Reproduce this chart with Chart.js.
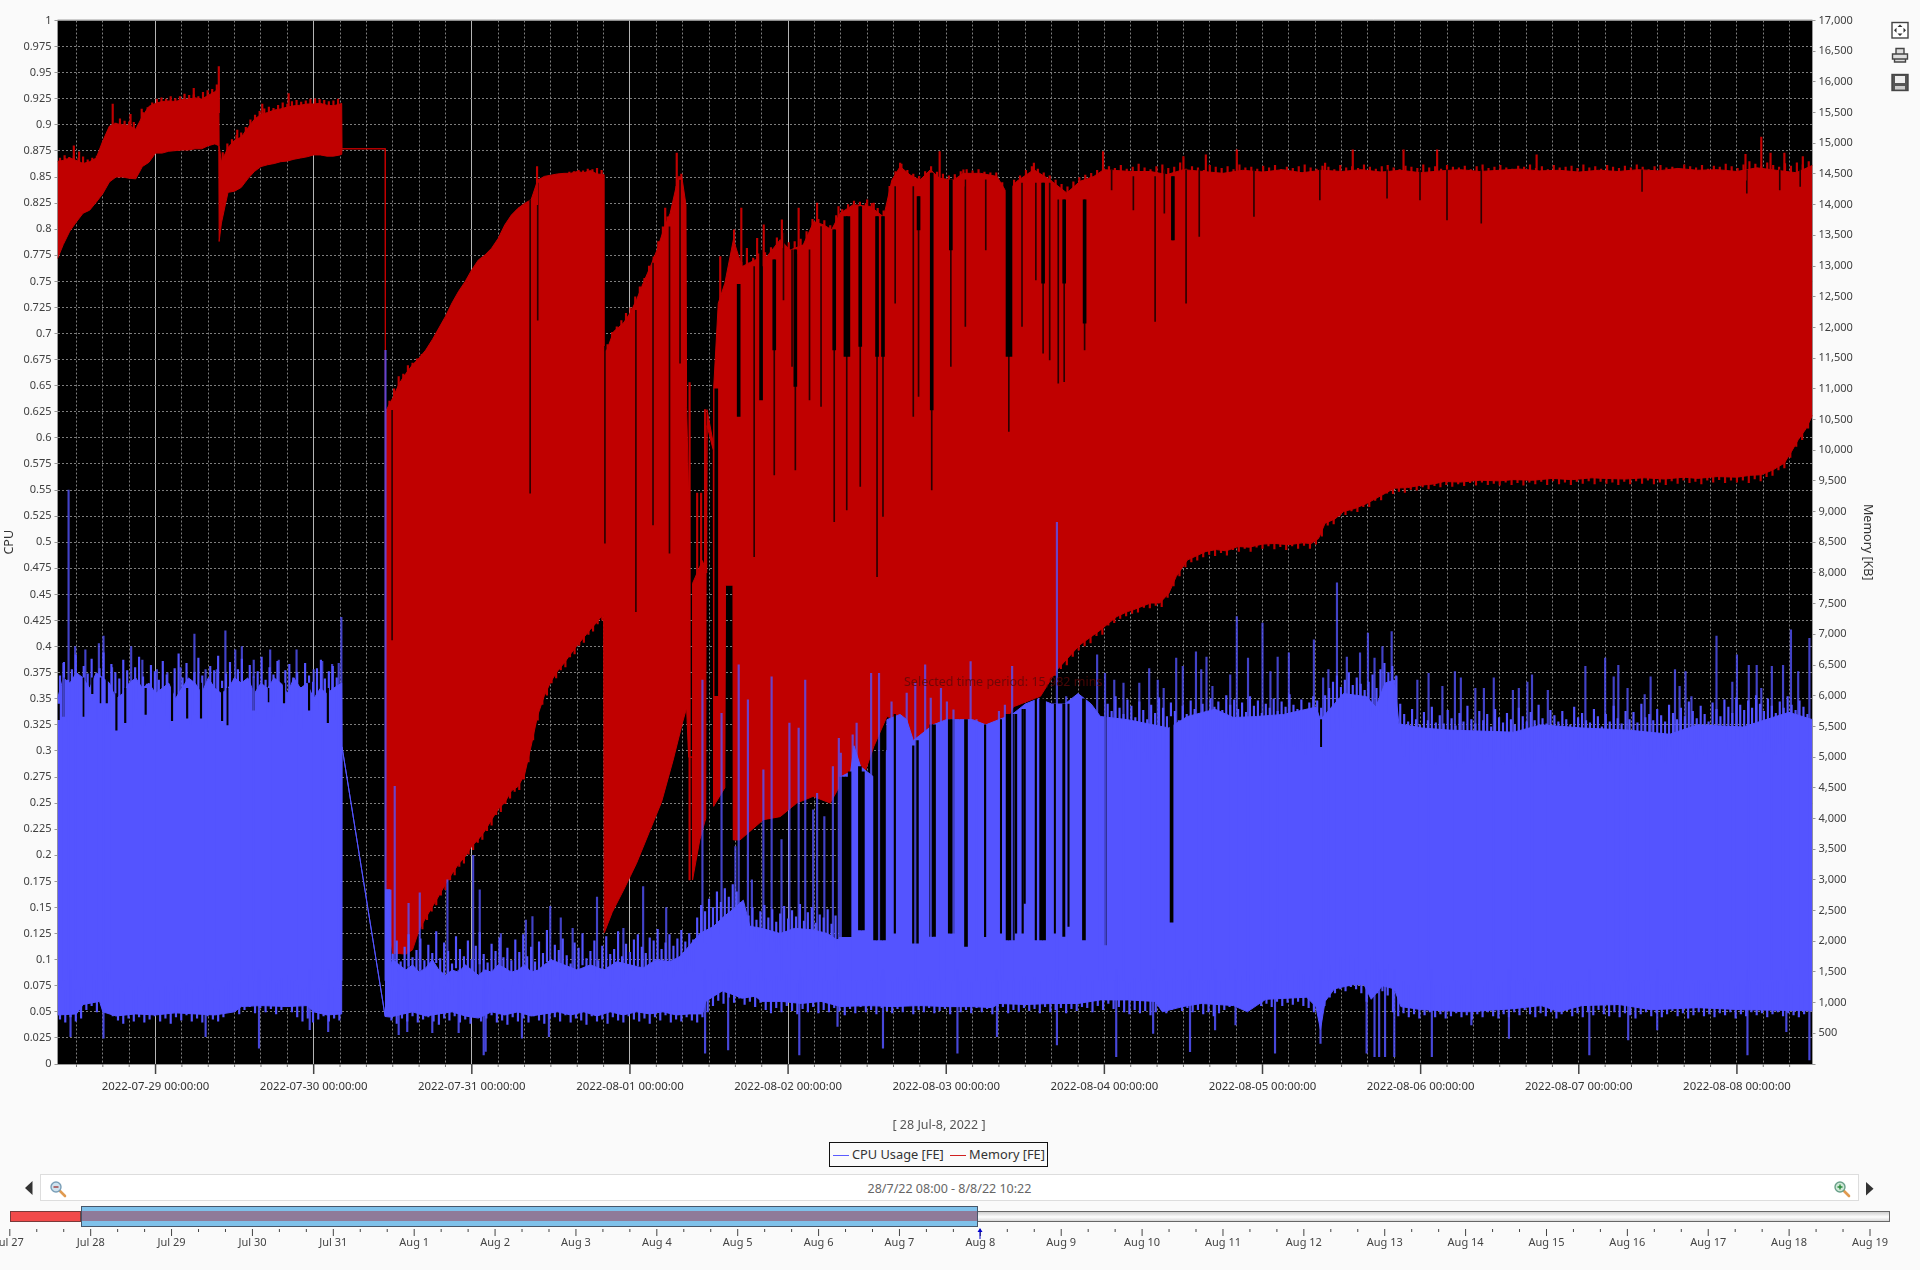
<!DOCTYPE html>
<html>
<head>
<meta charset="utf-8">
<title>CPU / Memory</title>
<script src="https://cdn.jsdelivr.net/npm/chart.js@4/dist/chart.umd.min.js"></script>
<style>
  html, body { margin: 0; padding: 0; background: #fafafa; overflow: hidden; }
  body { width: 1920px; height: 1270px; position: relative; font-family: "Noto Sans", sans-serif; color: #444; }
  canvas { position: absolute; left: 0; }
  .abs { position: absolute; }
  #rangeText { left: 40px; top: 1174px; width: 1819px; height: 27px; box-sizing: border-box; background: #fff; border: 1.5px solid #ddd;
    text-align: center; font-size: 12.5px; line-height: 27px; color: #666; }
  #period { left: 904px; top: 673px; font-size: 12.5px; color: rgba(90, 8, 8, 0.8); white-space: nowrap; }
  #caption { left: 839px; width: 200px; top: 1116px; text-align: center; font-size: 12.5px; color: #555; }
  #legend { left: 829px; top: 1142px; width: 219px; height: 25px; box-sizing: border-box; border: 1.5px solid #111; background: #fafafa;
    font-size: 12.8px; line-height: 22px; color: #333; white-space: nowrap; }
  #legend i { display: inline-block; width: 16px; height: 1.5px; vertical-align: middle; margin: 0 3px 0 3px; }
  #track { left: 10px; top: 1211px; width: 1880px; height: 11px; box-sizing: border-box; border: 1px solid #666;
    background: linear-gradient(#cfcfcf, #fdfdfd 55%, #d8d8d8); }
  #off { left: 10px; top: 1211px; width: 71px; height: 11px; box-sizing: border-box; border: 1px solid #7a3a3a; background: #f24a4a; }
  #sel { left: 81px; top: 1206px; width: 897px; height: 21px; box-sizing: border-box; border: 1px solid #46566a; background: #7fc1ea; }
  #sel div { position: absolute; left: 0; right: 0; top: 4px; height: 10px; background: #8f7a99; }
</style>
</head>
<body>
<canvas id="mainChart" width="1920" height="1270" style="top:0"></canvas>
<canvas id="navChart" width="1920" height="70" style="top:1200px"></canvas>

<div class="abs" id="period">Selected time period: 15,982 mins</div>
<div class="abs" id="caption">[ 28 Jul-8, 2022 ]</div>
<div class="abs" id="legend"><i style="background:#5a5aff"></i>CPU Usage [FE] <i style="background:#d02020"></i>Memory [FE]</div>
<div class="abs" id="rangeText">28/7/22 08:00 - 8/8/22 10:22</div>
<div class="abs" id="track"></div>
<div class="abs" id="off"></div>
<div class="abs" id="sel"><div></div></div>

<!-- toolbar + slider icons -->
<svg class="abs" style="left:0;top:0" width="1920" height="1270" fill="none">
  <g stroke="#444" stroke-width="1.4">
    <rect x="1892" y="22.5" width="16" height="15.5" fill="#fff"/>
    <path d="M1900 24.5l-2.5 2.5h5zM1900 36l-2.5-2.5h5zM1894 30.2l2.5-2.5v5zM1906 30.2l-2.5-2.5v5z" fill="#333" stroke="none"/>
    <path d="M1896 54v-5.5h8v5.5M1892.5 54h15v5h-15zM1894.5 59v3h11v-3" fill="#ddd"/>
    <rect x="1892" y="74.5" width="16" height="16" fill="#555"/>
    <rect x="1895" y="76" width="10" height="7" fill="#eee" stroke="none"/>
    <rect x="1895" y="86" width="10" height="3.5" fill="#ccc" stroke="none"/>
  </g>
  <path d="M32.5 1181v14l-7.5-7z" fill="#333"/>
  <path d="M1866 1182v13.5l7.5-6.7z" fill="#333"/>
  <g>
    <path d="M60 1191l5 5" stroke="#e09a50" stroke-width="2.6" stroke-linecap="round"/>
    <circle cx="56" cy="1187" r="5" fill="#cfe2ee" stroke="#7a9fb8" stroke-width="1.4"/>
    <path d="M53.5 1187h5" stroke="#a03a3a" stroke-width="1.4"/>
  </g>
  <g>
    <path d="M1844 1191l5 5" stroke="#e09a50" stroke-width="2.6" stroke-linecap="round"/>
    <circle cx="1840" cy="1187" r="5" fill="#cfe8d8" stroke="#6aa08a" stroke-width="1.4"/>
    <path d="M1837.5 1187h5M1840 1184.5v5" stroke="#2a8a3a" stroke-width="1.4"/>
  </g>
  <path d="M980 1228l-2.5 4h5z" fill="#0000cc"/>
  <path d="M980 1231v8" stroke="#0000cc" stroke-width="1"/>
</svg>

<script>
// x values are hours counted from 2022-07-28 00:00
const hourMin = 9.12;
const hourMax = 275.47;

const dayHours = [24, 48, 72, 96, 120, 144, 168, 192, 216, 240, 264];
const dayLabels = ['2022-07-29 00:00:00', '2022-07-30 00:00:00', '2022-07-31 00:00:00', '2022-08-01 00:00:00',
  '2022-08-02 00:00:00', '2022-08-03 00:00:00', '2022-08-04 00:00:00', '2022-08-05 00:00:00',
  '2022-08-06 00:00:00', '2022-08-07 00:00:00', '2022-08-08 00:00:00'];
const solidDays = [24, 48, 72, 96, 120];

// Memory band, upper edge [KB]
const memUpperH = [9.12,10,11,12,13,14,15,16,17,18,19,20,21,22,23,24,25,26,27,28,29,30,31,32,33,33.6,
  33.65,34,35,36,37,38,39,40,41,42,43,44,45,46,47,48,49,50,51,52,52.25,
  52.3,58.85,58.9,59,60,61,62,63,64,65,66,67,68,69,70,71,72,73,74,75,76,77,78,79,80,81,82,83,84,85,86,87,88,89,90,91,92,
  92.05,92.5,93.5,95,96,97,98,99.1,100.1,101.1,102.1,102.9,103.4,103.9,104.5,104.6,104.9,104.95,105.45,105.5,107,107.65,107.7,108.65,108.7,109.4,110.4,111.7,
  113,115,116.8,118.8,120.3,122.3,123.9,125.4,126.6,127.9,129.9,132.5,134.5,135.75,137,138.5,140,141.6,143,145.1,146.6,149.2,151.7,153.2,154.7,157.3,159.8,162.3,164.3,166.4,167.9,172,175,177.5,180,
  183,186,189,192,195,198,201,204,207,210,213,216,219,222,225,228,231,234,237,240,243,246,249,252,255,258,261,264,267,270,273,275.47];
const memUpper = [14705,14720,14760,14720,14670,14700,14760,15040,15280,15320,15300,15290,15230,15440,15600,15650,15680,15690,15680,15710,15720,15740,15720,15780,15840,15900,
  14960,14700,14930,15050,15100,15250,15390,15470,15500,15540,15560,15590,15610,15620,15640,15640,15650,15620,15610,15640,15650,
  14910,14910,10630,10650,10850,11090,11250,11390,11500,11630,11800,11990,12180,12400,12590,12750,12940,13100,13180,13290,13450,13670,13830,13940,14020,14080,14400,14460,14480,14500,14510,14510,14540,14520,14555,14500,14490,
  11600,11630,11930,12070,12230,12450,12720,12990,13260,13590,13860,14240,14460,14430,14000,10700,9300,5000,5000,7830,8200,8000,10660,10110,11000,12390,12720,13430,
  12990,13100,13155,13430,13260,13345,13725,13670,13590,13860,14000,13970,13800,14400,14620,14485,14400,14570,14430,14400,14510,14510,14460,14190,14380,14570,14400,14190,14380,14460,14570,14540,14540,14490,14570,
  14540,14510,14560,14530,14570,14520,14560,14540,14570,14530,14560,14520,14550,14570,14540,14560,14580,14550,14560,14530,14560,14540,14570,14550,14590,14560,14570,14540,14600,14560,14520,14640];

// Memory band, lower edge [KB]
const memLowerH = [9.12,10,11,12,13,14,15,16,17,18,19,20,21,22,23,24,25,26,27,28,29,30,31,32,33,33.6,
  33.65,34,35,36,37,38,39,40,41,42,43,44,45,46,47,48,49,50,51,52,52.25,52.3,58.85,58.9,59.6,60,61,62,63,64,65,66,67,68,69,70,71,72,73,74,75,76,77,78,79,80,81,82,83,84,85,86,87,88,89,90,91,92,
  92.1,93.3,95.2,97,98.9,100.8,102.6,104,104.6,104.9,105.45,105.5,106.6,107.5,107.55,107.7,108.65,108.7,110.4,110.5,111.65,111.7,
  112.7,116.25,118.8,121.3,123.8,126.4,128.9,130.9,133,135,137,139,140,142,144.1,147.1,149.1,152.2,154.2,158.3,160.8,164.3,167.4,169.9,171.5,172.4,175,176.4,177.8,178.9,180.6,
  183.4,185,186.5,188.3,190,192,193.9,196,198,199.4,200.5,201.5,203,204.3,206,207.8,210,212,214,216.1,218,219.6,222,225,228,230,233,236,239,242,244,247,250,253,256,258,261,264,266,267.7,269.5,271.2,272.3,273.3,274.5,275.47];
const memLower = [13120,13350,13570,13720,13860,13910,14040,14180,14370,14450,14450,14430,14420,14620,14690,14840,14840,14870,14880,14890,14890,14910,14910,14960,14990,14960,
  13400,13700,14200,14220,14280,14420,14540,14620,14650,14670,14700,14710,14740,14760,14780,14810,14810,14790,14790,14810,14820,14910,14910,1320,2100,1800,1800,1790,1860,2180,2380,2560,2740,2930,3100,3260,3380,3550,3660,3800,3980,4150,4260,4450,4520,4710,5180,5680,6000,6230,6400,6530,6680,6820,6950,7080,7200,7340,
  2135,2470,2870,3270,3770,4270,4970,5570,5800,5000,5000,3000,3650,4000,8000,10400,10000,4200,4500,7800,7800,3650,
  3650,3980,4030,4250,4360,4250,4740,4520,5170,5660,5600,5060,5335,5500,5390,5450,5335,5390,5820,5990,6420,6830,7070,7290,7370,7400,7510,7510,7670,7940,8210,
  8350,8380,8360,8430,8420,8470,8480,8460,8490,8480,8560,8810,8880,9000,9050,9130,9260,9380,9390,9430,9450,9490,9480,9510,9500,9520,9510,9540,9520,9550,9540,9530,9550,9530,9560,9540,9570,9560,9590,9600,9680,9790,9980,10170,10350,10570];

// Rough top of the memory band, read every so often: {start hour, step, peak values}
const memPeaksA = [14760,14800,14770,14790,14760,14780,14730,14760,14790,14830,14900,15150,15330,15400,15360,15350,15340,15290,15500,15580,15660,15720,15740,15720,15760,15730,15760,15800,15780,15790,15760,15830,15860,15880,15950];
const memPeaksB = [14850,14990,15060,15130,15170,15260,15380,15460,15520,15560,15590,15570,15620,15660,15640,15680,15700,15670,15690,15720,15680,15710,15700,15680,15690,15720];
const memPeaksC = [10800,11000,11200,11240,11380,11420,11490,11560,11580,11700,11780,11900,11960,12100,12150,12300,12390,12460,12600,12620,12740,12790,12940,13000,13120,13150,13260,13280,13400,13550,13600,13780,13800,13920,13960,14050,14100,14420,14480,14530,14540,14560,14550,14580,14570,14590,14560];
const memPeaksD = [11720,11920,12010,12110,12230,12320,12500,12660,12800,13000,13150,13400,13640,13800,13950,14300,14500];
const memPeaksE = [13100,13060,13060,13130,13200,13220,13300,13460,13480,13380,13400,13440,13560,13760,13760,13740,13660,13820,13920,14000,14060,14040,14020,14020,13940,13900,14300,14540,14660,14560,14500,14460,14540,14620,14530,14500,14470,14490,14540,14570,14550,14570,14530,14520,14520,14360,14300,14400,14470,14560,14620,14580,14520,14470,14400,14330,14290,14370,14440,14480,14510,14560,14620,
  14620,14590,14640,14580,14610,14660,14600,14570,14620,14650,14590,14610,14680,14580,14620,14600,14560,14640,14610,14590,14620,14570,14650,14600,14610,14580,14630,14600,14640,14570,14610,14590,14620,14650,14600,14580,14630,14610,14570,14640,14600,14620,14590,14650,14610,14580,14620,14640,14600,14570,14630,14610,14590,14650,14600,14620,14580,14640,14610,14600,14630,14570,14620,14650,14590,14610,14640,14600,14580,14630,14610,14650,14590,14620,14570,14640,14600,14610,14630,14590,14650,14600,14620,14580,14640,14610,14590,14630,14600,14650,14610,14570,14620,14640,14600,14610,14590,14650,14620,14600,14640,14580,14630,14610,14660,14620,14590,14650,14700,14660,14620,14680,14640,14610,14670,14630,14680,14650,14700];

// Rough bottom of the memory band, where it shows against black
const memFloorC = [2200,2350,2490,2590,2750,2840,3000,3080,3220,3270,3420,3490,3610,3660,3800,3890,4060,4110,4240,4330,4440,4470,4640,4920,5280,5600,5860,6010,6210,6290,6420,6470,6630,6680,6820,6870,7000,7050,7170,7230];
const memFloorF = [6330,6440,6500,6640,6740,6810,6860,6980,7000,7150,7190,7260,7300,7340,7360,7440,7430,7470,7450,7600,7790,7950,8100,8180,8210,8260,8300,8280,8330,8290,8380,8350,8400,8350,8420,8400,8440,8390,8430,8380,8440,8400,8450,8400,8470,8600,8780,8800,8930,8950,9010,9000,9080,9080,9180,9190,9300,9290,9330,9310,9360,9350,9400,9370,9420,9400,9440,9410,9450,9420,9470,9430,9480,9440,9460,9430,9480,9440,9470,9430,9480,9450,9490,9440,9500,9450,9480,9440,9490,9460,9500,9450,9490,9460,9480,9440,9490,9450,9500,9460,9510,9450,9480,9440,9500,9460,9510,9470,9490,9450,9510,9480,9520,9470,9510,9480,9510,9470,9530,9500,9570,9590,9680,9710,9880,10060,10170,10360];

// Dark slits cut into the memory band: thin ones, then the wider ones
const memSlitH = [59.9,80.85,82,92.2,96.9,99.5,102,103.6,114.85,117.9,119.3,120.6,121.1,123.25,125,127,128.9,130.95,133.5,134.4,136.25,139,139.8,141.8,144.7,146.9,150,153.5,155.5,157.6,158.7,159.7,161,161.9,165,169.1,172.4,175.7,177.1,178.4,180.4,182.4,190.7,200.7,210.9,215.9,220,225.2,249.6,265.5,270.5,273.6];
const memSlitTop = [10650,14080,14350,11690,12280,13050,13640,14400,12992,13101,13535,13264,13264,13264,13644,13590,13807,13970,13807,13807,14296,14296,14130,14513,14404,14404,14404,14350,14350,14350,14350,14350,14078,14078,14078,14567,14459,14459,14567,14459,14567,14567,14567,14567,14567,14567,14567,14567,14567,14567,14567,14567];
const memSlitBottom = [6910,9299,12120,8484,7371,8783,8321,11417,8267,9598,12449,11363,9679,10820,10711,8837,9028,9408,7941,8919,12395,10548,10874,9353,11363,12015,13264,10304,12015,12775,11580,11471,11091,11118,11634,14241,13915,12096,13861,13426,12395,13481,13807,14078,14105,14078,13752,13698,14214,14187,14241,14296];
const memGapH = [109.1,112.5,115.9,117.9,121.1,127,128.7,129.15,130.95,133.5,134.4,139.8,141.8,144.7,153.3,153.75,158.7,161.9,165,178.4];
const memGapTop = [11000,12700,13264,13101,13264,13590,13807,13807,13970,13807,13807,14130,14513,14404,14350,14350,14350,14078,14078,14459];
const memGapBottom = [6000,10550,10820,11634,11037,11634,11526,11526,11689,11526,11526,13590,10657,13264,11526,11526,12721,12721,12069,13426];

// Red spikes sticking out of the memory band
const memSpikeH = [10.3,10.9,11.6,12.4,17.5,20.2,21.9,29.8,33.6,36.4,40.2,44.2,48.2,81.9,101.35,103.1,105.05,106.2,106.8,107.4,109.7,111.8,112.9,113.75,115.3,116.3,119.05,121.6,124.4,127.65,132,133,137,143,146.6,157.3,167.8,180,183.4,188.1,201.5,205.7,213.4,218.5,233.6,265.3,267.7,269.1,271.2,274];
const memSpikeTop = [14756,14756,14960,14860,15640,15470,15555,15895,16250,15215,15640,15810,15725,14620,13943,14840,11100,9300,9300,10660,13155,13590,13943,13290,13450,13670,13752,13943,14024,13970,14078,14024,14676,14866,14566,14676,14866,14784,14812,14893,14676,14893,14893,14893,14812,14820,15100,14839,14839,14784];
const memSpikeBase = [14400,14400,14400,14400,15000,15000,15000,15300,15500,14800,15000,15200,15200,14000,13000,14000,3000,7830,7830,8000,12000,13000,12900,12900,12900,13000,13300,13200,13500,13500,13800,13800,14400,14300,14300,14300,14300,14300,14400,14400,14400,14400,14400,14400,14400,14400,14400,14400,14400,14400];

// CPU band, upper edge
const cpuUpperH = [9.12,10,11,12,13,14,15,16,17,18,19,20,21,22,23,24,25,26,27,28,29,30,31,32,33,34,35,36,37,38,39,40,41,42,43,44,45,46,47,48,49,50,51,52.25,
  52.3,58.85,58.9,59.6,59.7,60,61,62,63,64,65,66,67,68,69,70,71,72,73,74,75,76,77,78,79,80,81,82,83,84,86,88,90,92,94,96,98,100,102,103.6,
  106.6,108.7,110.2,112,113.2,114.2,116,118.8,121,123.8,126,127.4,127.8,127.9,129.5,130,131,133,134.9,135,137,138,139,140,142,144,146,148,150,152,154,156,158,160,162,164,166,
  167.4,171.5,177.8,180.6,184.8,187.6,191.1,195.2,200.1,200.8,202.9,204.3,207.8,209.2,210.6,212,212.7,216.2,220.3,230.1,234.3,240.5,247.5,253.8,258,264.9,271.9,275.47];
const cpuUpper = [.35,.37,.365,.375,.37,.36,.375,.37,.365,.35,.355,.365,.37,.36,.365,.355,.36,.365,.35,.36,.37,.365,.355,.37,.36,.355,.36,.37,.365,.37,.355,.365,.36,.37,.365,.355,.37,.36,.365,.35,.36,.355,.36,.365,
  .304,.0455,.167,.167,.095,.1,.095,.09,.095,.088,.092,.1,.09,.085,.09,.088,.095,.09,.085,.09,.088,.095,.092,.088,.09,.095,.088,.09,.095,.1,.095,.09,.095,.09,.098,.095,.092,.1,.098,.103,
  .125,.132,.141,.15,.157,.132,.13,.125,.13,.1285,.125,.119,.12,.275,.28,.305,.285,.275,.30,.33,.335,.33,.31,.315,.325,.33,.33,.33,.325,.33,.335,.345,.35,.345,.345,.355,.345,
  .333,.33,.322,.333,.34,.332,.333,.335,.342,.33,.345,.355,.352,.342,.365,.368,.326,.322,.32,.318,.325,.322,.32,.316,.325,.323,.337,.33];

// CPU band, lower edge
const cpuLowerH = [9.12,12,13,15.5,16,18,21,24,27,30,33,36,37,40,44,47,48,50,52.25,52.3,58.85,59.6,61,63,65,67,69,71,73,75,77,79,81,83,85,87,89,91,93,95,97,99,101,103,105,107,107.5,109,110,111,113,115,116,119,122,125,128,132,136,140,144,148,151,152,156,160,164,
  167.4,171.5,175.7,176.8,179.9,182.7,187.6,189.7,192.5,198.7,200.1,200.8,201.5,202.9,205.7,207.4,208.5,210.2,212,213,216.2,223.1,230.1,234.3,237,240.5,246.1,251,258,264.9,275.47];
const cpuLower = [.047,.048,.057,.06,.05,.046,.048,.047,.049,.048,.047,.05,.055,.056,.055,.056,.05,.047,.048,.304,.0455,.045,.047,.05,.046,.048,.05,.046,.044,.05,.047,.05,.046,.048,.05,.047,.05,.046,.05,.047,.05,.048,.05,.047,.048,.048,.06,.066,.07,.068,.063,.065,.06,.06,.058,.06,.055,.056,.055,.056,.055,.055,.054,.058,.057,.058,.058,
  .0614,.0614,.06,.05,.055,.058,.056,.05,.062,.064,.055,.033,.06,.072,.076,.076,.062,.075,.072,.055,.052,.05,.053,.056,.05,.056,.057,.052,.054,.052,.051];

// Rough top of the CPU band
const cpuPeaksA = [.372,.385,.368,.378,.392,.365,.381,.374,.388,.37,.379,.394,.366,.383,.375,.369,.387,.377,.362,.38,.39,.371,.364,.382,.376,.368,.386,.373,.361,.379,.393,.37,.384,.366,.375,.389,.372,.363,.381,.377,.391,.367,.374,.385,.369,.378,.388,.365,.382,.371,.376,.39,.368,.38,.373,.386,.364,.377,.383,.37,.375,.361,.384,.372,.366,.379,.387,.369,.376,.381,.37];
const cpuPeaksB = [.105,.118,.098,.112,.124,.102,.109,.12,.099,.114,.106,.127,.101,.116,.108,.096,.122,.11,.103,.118,.1,.113,.126,.105,.097,.115,.108,.121,.102,.111,.099,.119,.107,.124,.103,.112,.098,.117,.106,.128,.1,.114,.109,.12,.104,.096,.116,.111,.125,.101,.108,.118,.099,.113,.122,.105,.11,.127,.103,.115,.107,.119,.124,.112,.106,.121,.118,.129,.11,.116,.124,.113,.12,.128,.117,.125,.119,
  .14,.152,.146,.158,.15,.165,.155,.168,.16,.172,.165,.155,.148,.142,.15,.138,.146,.152,.14,.148,.136,.144,.151,.139,.147,.141,.153,.137,.145,.15,.135,.143,.14,.148,.134,.142];
const cpuPeaksC = [.345,.338,.352,.341,.335,.349,.343,.332,.347,.339,.33,.344,.336,.351,.341,.333,.346,.338,.329,.343,.335,.348,.34,.332,.345,.337,.35,.342,.347,.339,.353,.344,.349,.34,.346,.337,.352,.343,.348,.336,.345,.341,.35,.338,.347,.342,.354,.344,.34,.349,.337,.346,.352,
  .348,.341,.353,.36,.366,.372,.361,.368,.375,.363,.37,.364,.358,.366,.373,.36,.378,.384,.375,.381,.372,.345,
  .335,.328,.34,.33,.325,.337,.329,.342,.327,.334,.326,.339,.331,.324,.336,.328,.343,.33,.326,.338,.329,.335,.323,.34,.332,.327,.336,.33,.325,.341,.333,.328,.337,.329,.344,.331,.326,.339,.334,.328,.338,.33,.325,.342,.332,.336,.329,.327,.34,.333,.323,.335,.328,.343,.331,.326,.338,.33,.337,.327,.345,.332,.335,.329,.34,.334,.328,.344,.336,.33,.341,.333,.347,.338,.331,.343,.335,.328,.346,.34,.333,.349,.342,.336,.351,.344,.339,.348,.341,.353,.345,.338,.35,.343,.336,.347,.341,.352,.344,.339,.348,.342,.335];

// Rough bottom of the CPU band
const cpuFloorA = [.043,.04,.045,.041,.044,.052,.056,.05,.055,.058,.046,.042,.039,.044,.041,.045,.04,.043,.046,.041,.044,.039,.045,.042,.047,.041,.044,.04,.046,.043,.041,.045,.05,.053,.048,.052,.055,.049,.054,.05,.053,.048,.052,.055,.05,.045,.041,.044,.04,.043,.046,.041,.044,.042];
const cpuFloorB = [.042,.039,.044,.041,.046,.04,.043,.045,.041,.038,.044,.042,.046,.04,.043,.039,.045,.041,.044,.047,.04,.042,.038,.045,.041,.044,.04,.046,.042,.039,.043,.045,.041,.047,.04,.044,.042,.038,.046,.041,.043,.039,.045,.042,.04,.046,.043,.041,.044,.039,.045,.042,.047,.04,.043,.041,.045,
  .042,.04,.045,.05,.056,.061,.058,.064,.059,.063,.057,.06,.055,.059,
  .052,.049,.054,.05,.056,.051,.048,.053,.05,.055,.049,.052,.05,.054,.051,.047,.053,.049,.055,.05,.052,.048,.054,.051,.049,.053,.05,.056,.048,.052,.05,.054,.049,.051,.053,.048,.055,.05,.052,.049,.054,.05,.053,.048,.051,.055,.049,.052,.05,.054,.051,.053,.049,.055,.05,.052,.054,.049,.053,.051,.055,
  .054,.05,.056,.052,.058,.053,.055,.05,.048,.052,.049,.051,.047,.05,.053,.049,.052,.055,.051,.054,.05,.052,.048,.05,.046,.049,.052,.055,.057,.054,.058,.055,.059,.056,.058,.055,.06,.056,.059,.057,.06,.056,.054,.05,
  .052,.056,.064,.068,.072,.07,.074,.072,.068,.06,.072,.068,.07,.066,.05,
  .046,.049,.045,.048,.044,.047,.05,.045,.048,.044,.046,.049,.045,.047,.043,.048,.045,.05,.046,.044,.048,.045,.05,.047,.052,.048,.045,.049,.046,.05,.044,.048,.051,.046,.049,.045,.05,.047,.052,.048,.046,.05,.045,.049,.047,.044,.048,.05,.046,.049,.045,.048,.051,.046,.049,.044,.047,.05,.046,.048,.045,.049,.047,.05,.044,.048,.046,.05,.047,.049,.045,.048,.05,.046,.049,.047,.045,.048];

// Blue spikes above the CPU band
const cpuSpikeH = [10,10.8,11.8,13.35,15.4,16.1,17.4,20.3,22,24.2,25.8,27.8,29.9,31.6,33.3,34.6,36.1,37.1,38.9,41.4,42.7,45.4,48,49.3,50.8,51.8,52.2,
  58.9,60.3,62.4,64.1,68.3,72.2,73.2,76.4,80.2,81.2,83.9,85.5,87.3,91,95,98,101.5,
  107,109.9,112,112.5,113.9,114.5,116.25,117.5,119,120.2,121.6,122.6,123.8,124.4,125.5,126.8,127.7,128,129.8,130.4,132.6,133.8,135.7,138,139.3,140.8,141.65,143.2,144.1,145.1,147.7,148.6,152,152.9,154,160.8,162.2,166.9,
  168.1,169.5,170.9,173.3,174.8,176.1,177,178.9,179.9,181.9,182.7,183.5,184.4,187.1,188.1,189.8,192,193.2,194.3,196,199.8,201.2,202,203.3,204.8,206.8,208,209,210.2,211.6,212.3,215.5,217.2,219.3,221.2,222.1,224.3,225.6,227.1,230,230.9,232.2,232.9,235.3,241,244,245.3,246,247.4,250,250.9,254.6,255.3,256.2,257.1,260.9,263.3,264,265.8,267,267.7,269.3,271,272.2,273.3,275];
const cpuSpikeTop = [.384,.55,.40,.397,.403,.41,.38,.40,.387,.378,.375,.38,.412,.378,.378,.415,.397,.40,.387,.397,.387,.397,.378,.386,.383,.384,.428,
  .684,.266,.154,.164,.1765,.2,.167,.125,.138,.1413,.151,.14,.13,.16,.13,.17,.15,
  .368,.336,.2084,.3825,.349,.1765,.282,.371,.215,.3266,.322,.368,.2436,.2595,.237,.285,.312,.298,.3155,.3266,.3745,.3745,.347,.3554,.365,.3825,.3506,.36,.347,.3394,.3857,.33,.338,.344,.381,.519,.352,.392,
  .3745,.368,.365,.365,.379,.368,.36,.389,.381,.395,.378,.39,.362,.373,.4287,.389,.4225,.376,.39,.394,.4065,.37,.378,.461,.39,.394,.413,.389,.40,.4144,.371,.368,.3745,.362,.376,.37,.36,.36,.37,.358,.36,.366,.373,.358,.381,.389,.371,.382,.36,.354,.371,.378,.362,.376,.352,.41,.366,.392,.382,.382,.36,.381,.382,.416,.376,.408];

// Blue dips below the CPU band
const cpuDipH = [11.1,16.1,31.6,39.7,47.4,50.2,60.9,62.2,66,70,73.8,74.1,79.6,83.7,107.4,110.9,121.7,127.5,134.4,145.7,151.7,160.8,
  169.8,175.4,181,184.8,187.9,193.9,200.8,207.8,209,209.7,210.6,212,217.7,223.7,229.4,241.6,247.5,251.9,265.6,271.5,275];
const cpuDipBottom = [.0263,.0247,.0263,.0151,.033,.031,.028,.031,.03,.03,.0087,.012,.0247,.0263,.0103,.0135,.0087,.036,.0151,.0103,.0263,.0183,
  .0071,.0294,.0118,.0326,.0374,.0103,.0198,.0103,.0071,.0071,.0071,.0071,.0071,.0374,.0246,.0087,.023,.0326,.0087,.031,.0038];

// Black gaps in the CPU band: thin ones, then the wider ones
const cpuSlitH = [9.3,10,13.1,14.4,15.6,16.6,18.06,19.4,22.5,26.5,28.8,30.9,34.1,34.9,38.9,41.2,43.5,47.3,50.15,136.2,149.9,152.3,154.6,155.6,155.9,157.6,160.5,162.55,168.15,200.9];
const cpuSlitTop = [.345,.37,.37,.37,.37,.37,.355,.36,.36,.365,.36,.365,.36,.36,.37,.36,.365,.365,.36,.335,.325,.33,.335,.34,.34,.35,.345,.345,.333,.33];
const cpuSlitBottom = [.33,.333,.333,.355,.346,.346,.32,.327,.335,.329,.3315,.3315,.329,.325,.339,.347,.346,.339,.327,.1253,.122,.1253,.1253,.1253,.154,.119,.1253,.1318,.114,.304];
const cpuGapH = [128,128.45,128.9,129.35,130.9,131.35,133.2,133.65,134.1,134.55,139.1,139.55,141.7,142.15,144.5,144.95,147,153.2,153.65,154.1,158.4,158.85,161.9,164.9,178.2];
const cpuGapTop = [.275,.275,.275,.28,.285,.28,.285,.29,.295,.30,.305,.31,.325,.325,.33,.33,.33,.335,.335,.335,.35,.35,.345,.35,.333];
const cpuGapBottom = [.122,.122,.122,.122,.1285,.1285,.119,.119,.119,.119,.1158,.1158,.1222,.1222,.1253,.1253,.1126,.119,.119,.119,.119,.119,.1222,.119,.136];

// Navigator axis under the chart
const navLabels = ['Jul 27','Jul 28','Jul 29','Jul 30','Jul 31','Aug 1','Aug 2','Aug 3','Aug 4','Aug 5','Aug 6','Aug 7','Aug 8','Aug 9','Aug 10','Aug 11','Aug 12','Aug 13','Aug 14','Aug 15','Aug 16','Aug 17','Aug 18','Aug 19'];

const FONT = '"Noto Sans", sans-serif';
const points = (xs, ys) => xs.map((x, i) => ({ x, y: ys[i] }));
const spans = (xs, tops, bottoms) => xs.map((x, i) => ({ x, y: [bottoms[i], tops[i]] }));
// values sampled every `step` hours from `start`; reach = how far the bar runs back into the band
const peaks = (start, step, values, reach) => values.map((v, i) => ({ x: start + i * step, y: [v - reach, v] }));
const floors = (start, step, values, reach) => values.map((v, i) => ({ x: start + i * step, y: [v, v + reach] }));

function edge(label, xs, ys, yAxisID, color, fill, order) {
  return { type: 'line', label, data: points(xs, ys), yAxisID, borderColor: color, borderWidth: 1,
    backgroundColor: color, fill, pointRadius: 0, tension: 0, order };
}
function marks(data, yAxisID, color, barThickness, order) {
  return { type: 'bar', data, yAxisID, backgroundColor: color, borderWidth: 0, barThickness, grouped: false, order };
}

// black plot background, top border and the two-length x tick marks
const plotFrame = {
  id: 'plotFrame',
  beforeDraw(chart) {
    const a = chart.chartArea, c = chart.ctx;
    c.save();
    c.fillStyle = '#000';
    c.fillRect(a.left, a.top, a.width, a.height);
    c.restore();
  },
  afterDraw(chart) {
    const a = chart.chartArea, c = chart.ctx, s = chart.scales.x;
    c.save();
    c.strokeStyle = '#a0a0a0';
    c.beginPath(); c.moveTo(a.left, a.top - 0.5); c.lineTo(a.right, a.top - 0.5); c.stroke();
    s.ticks.forEach(t => {
      const major = dayHours.includes(t.value);
      const px = s.getPixelForValue(t.value);
      c.strokeStyle = major ? '#444' : '#777';
      c.lineWidth = major ? 1.5 : 1;
      c.beginPath(); c.moveTo(px, a.bottom); c.lineTo(px, a.bottom + (major ? 10 : 3)); c.stroke();
    });
    c.restore();
  }
};

const hourTicks = [];
for (let h = 12; h <= 272; h += 4) hourTicks.push(h);

const memRough = [
  ...peaks(9.5, 0.7, memPeaksA, 300), ...peaks(34.2, 0.7, memPeaksB, 300), ...peaks(59.5, 0.7, memPeaksC, 300),
  ...peaks(92.6, 0.7, memPeaksD, 300), ...peaks(112, 0.9, memPeaksE, 300),
  ...floors(64.5, 0.7, memFloorC, 300), ...floors(160.5, 0.9, memFloorF, 300)
];
const cpuRough = [
  ...peaks(9.5, 0.6, cpuPeaksA, 0.04), ...peaks(60, 0.6, cpuPeaksB, 0.03), ...peaks(168.5, 0.6, cpuPeaksC, 0.04),
  ...floors(9.5, 0.8, cpuFloorA, 0.03), ...floors(59.8, 0.8, cpuFloorB, 0.03)
];

new Chart(document.getElementById('mainChart'), {
  type: 'line',
  plugins: [plotFrame],
  data: {
    datasets: [
      edge('Memory [FE]', memUpperH, memUpper, 'yMem', '#c00000', '+1', 60),
      edge('Memory low', memLowerH, memLower, 'yMem', '#c00000', false, 60),
      marks(memRough, 'yMem', '#c00000', 1.5, 58),
      marks(spans(memSlitH, memSlitTop, memSlitBottom), 'yMem', '#2a0000', 1, 55),
      marks(spans(memGapH, memGapTop, memGapBottom), 'yMem', '#000', 3, 54),
      marks(spans(memSpikeH, memSpikeTop, memSpikeBase), 'yMem', '#c00000', 1.5, 53),
      edge('CPU Usage [FE]', cpuUpperH, cpuUpper, 'yCpu', '#5454ff', '+1', 40),
      edge('CPU low', cpuLowerH, cpuLower, 'yCpu', '#5454ff', false, 40),
      marks(cpuRough, 'yCpu', '#5454ff', 1.5, 38),
      marks(spans(cpuSlitH, cpuSlitTop, cpuSlitBottom), 'yCpu', '#000', 1.5, 35),
      marks(spans(cpuGapH, cpuGapTop, cpuGapBottom), 'yCpu', '#000', 3, 34),
      marks(spans(cpuSpikeH, cpuSpikeTop, cpuSpikeH.map(() => 0.08)), 'yCpu', 'rgba(84,84,255,0.78)', 1.5, 30),
      marks(spans(cpuDipH, cpuDipH.map(() => 0.09), cpuDipBottom), 'yCpu', 'rgba(84,84,255,0.85)', 1.5, 30)
    ]
  },
  options: {
    responsive: false,
    animation: false,
    events: [],
    layout: { padding: { top: 20.5 } },
    plugins: { legend: { display: false }, tooltip: { enabled: false } },
    scales: {
      x: {
        type: 'linear',
        offset: false,
        min: hourMin,
        max: hourMax,
        afterBuildTicks: s => { s.ticks = hourTicks.map(value => ({ value })); },
        afterFit: s => { s.height = 206; s.paddingLeft = 0; s.paddingRight = 0; },
        grid: {
          offset: false,
          drawTicks: false,
          color: ctx => (solidDays.includes(ctx.tick && ctx.tick.value) ? '#b4b4b4' : '#7d7d7d')
        },
        border: {
          color: '#999',
          dash: ctx => (solidDays.includes(ctx.tick && ctx.tick.value) ? [] : [2, 2])
        },
        ticks: {
          autoSkip: false,
          maxRotation: 0,
          padding: 16,
          color: '#333',
          font: { family: FONT, size: 11.4 },
          callback: v => { const i = dayHours.indexOf(v); return i < 0 ? '' : dayLabels[i]; }
        }
      },
      yCpu: {
        type: 'linear',
        position: 'left',
        min: 0,
        max: 1,
        afterFit: s => { s.width = 57.5; },
        title: { display: true, text: 'CPU', color: '#333', font: { family: FONT, size: 12.5 }, padding: { top: 2, bottom: 0 } },
        grid: { color: '#7d7d7d', tickLength: 3, tickColor: '#999' },
        border: { color: '#999', dash: [2, 2] },
        ticks: {
          stepSize: 0.025,
          autoSkip: false,
          padding: 3,
          color: '#404040',
          font: { family: FONT, size: 11 },
          callback: v => String(+v.toFixed(3))
        }
      },
      yMem: {
        type: 'linear',
        position: 'right',
        min: 0,
        max: 17000,
        afterFit: s => { s.width = 107.5; },
        title: { display: true, text: 'Memory [KB]', color: '#333', font: { family: FONT, size: 12.5 }, padding: { top: 45, bottom: 0 } },
        grid: { drawOnChartArea: false, tickLength: 3, tickColor: '#999' },
        border: { color: '#999' },
        ticks: {
          stepSize: 500,
          autoSkip: false,
          padding: 3,
          color: '#404040',
          font: { family: FONT, size: 11 },
          callback: v => (v === 0 ? '' : v.toLocaleString('en-US'))
        }
      }
    }
  }
});

// navigator axis: days with two small ticks between them
const navTickMarks = {
  id: 'navTickMarks',
  afterDraw(chart) {
    const c = chart.ctx, s = chart.scales.x, y0 = chart.chartArea.bottom;
    c.save();
    c.strokeStyle = '#444';
    s.ticks.forEach(t => {
      const major = Number.isInteger(t.value);
      const px = s.getPixelForValue(t.value);
      c.beginPath(); c.moveTo(px, y0); c.lineTo(px, y0 + (major ? 7 : 3)); c.stroke();
    });
    c.restore();
  }
};

const navTicks = [];
navLabels.forEach((_, i) => {
  navTicks.push(i);
  if (i < navLabels.length - 1) navTicks.push(i + 1 / 3, i + 2 / 3);
});

new Chart(document.getElementById('navChart'), {
  type: 'line',
  plugins: [navTickMarks],
  data: { datasets: [] },
  options: {
    responsive: false,
    animation: false,
    events: [],
    layout: { padding: { left: 9.8, right: 50 } },
    plugins: { legend: { display: false }, tooltip: { enabled: false } },
    scales: {
      y: { display: false },
      x: {
        type: 'linear',
        min: 0,
        max: navLabels.length - 1,
        afterBuildTicks: s => { s.ticks = navTicks.map(value => ({ value })); },
        afterFit: s => { s.height = 41; s.paddingLeft = 0; s.paddingRight = 0; },
        grid: { display: false, drawTicks: false },
        border: { display: false },
        ticks: {
          autoSkip: false,
          maxRotation: 0,
          padding: 7,
          color: '#444',
          font: { family: FONT, size: 11 },
          callback: v => (Number.isInteger(v) ? navLabels[v] : '')
        }
      }
    }
  }
});
</script>
</body>
</html>
